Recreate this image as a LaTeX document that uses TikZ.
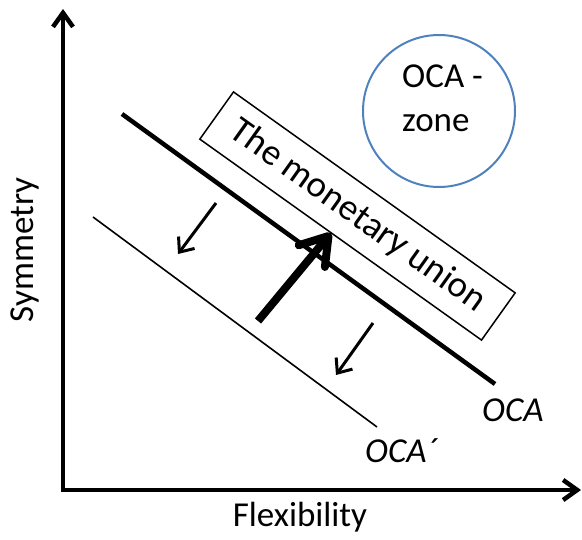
\documentclass[tikz,border=0pt]{standalone}
\usepackage{fontspec}
\setmainfont{Carlito}
\usetikzlibrary{arrows.meta}
\definecolor{zoneblue}{RGB}{79,129,189}
\begin{document}
\begin{tikzpicture}[x=1pt,y=-1pt,
  lbl/.style={font=\fontsize{35}{40}\selectfont, inner sep=0pt},
  axisline/.style={line width=4.5pt, line join=miter},
  axistip/.tip={Straight Barb[length=14pt,width=20pt]},
  bigarrow/.style={line width=8pt, -{Straight Barb[length=26pt,width=34pt,round]}},
  smallarrow/.style={line width=3pt, -{Straight Barb[length=12pt,width=20pt]}},
  ocaline/.style={line width=4.5pt},
  ocathin/.style={line width=1.6pt},
]
\useasboundingbox (0,0) rectangle (582,540);
% axes
\coordinate (O) at (63,490);
\coordinate (ytip) at (63,9);
\coordinate (xtip) at (581,490);
\draw[axisline, axistip-axistip] (ytip) -- (O) -- (xtip);
% OCA lines
\coordinate (ocaA) at (122,114);
\coordinate (ocaB) at (495,384);
\draw[ocaline] (ocaA) -- (ocaB);
\coordinate (ocpA) at (93,217);
\coordinate (ocpB) at (377,427);
\draw[ocathin] (ocpA) -- (ocpB);
% monetary union box
\node[draw, line width=1.5pt, rotate=-35.5, minimum width=346pt, minimum height=58pt, lbl, font=\fontsize{37}{40}\selectfont] (union) at (357.5,216) {The monetary union};
% OCA zone circle
\node[draw=zoneblue, line width=2pt, circle, minimum size=152pt, inner sep=0pt] (zone) at (439,111) {};
\node[lbl, anchor=base west] (zoneA) at (402,88) {OCA -};
\node[lbl, anchor=base west] (zoneB) at (402,132) {zone};
% arrows
\coordinate (bigS) at (258,321);
\coordinate (bigE) at (331,233);
\draw[bigarrow] (bigS) -- (bigE);
\coordinate (s1S) at (216,203);
\coordinate (s1E) at (178,254);
\draw[smallarrow] (s1S) -- (s1E);
\coordinate (s2S) at (373,323);
\coordinate (s2E) at (336,375);
\draw[smallarrow] (s2S) -- (s2E);
% labels
\node[lbl, anchor=base west, font=\fontsize{35}{40}\selectfont\itshape] (ocalbl) at (482,422) {OCA};
\node[lbl, anchor=base west, font=\fontsize{35}{40}\selectfont\itshape] (ocplbl) at (365,463) {OCA´};
\node[lbl, anchor=base] (xlbl) at (300,527) {Flexibility};
\node[lbl, anchor=base, rotate=90] (ylbl) at (33,250) {Symmetry};
\end{tikzpicture}
\end{document}
